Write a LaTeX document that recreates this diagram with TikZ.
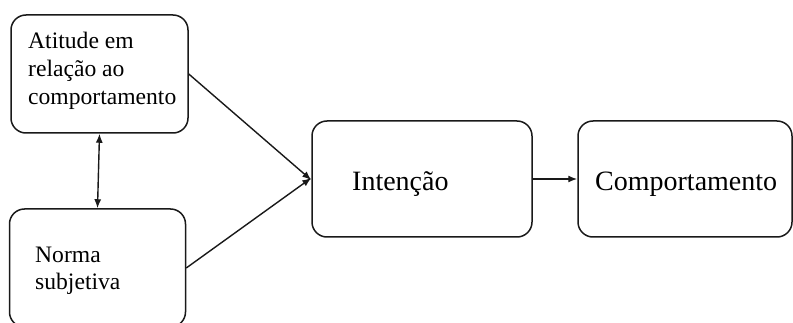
\documentclass[tikz,border=0pt]{standalone}
\usepackage{fontspec}
\setmainfont{Liberation Serif}
\usetikzlibrary{arrows.meta}
\begin{document}
\begin{tikzpicture}[x=1pt,y=-1pt,
  box/.style={draw=black!90, line width=1.5pt, rounded corners=15pt, inner sep=0pt},
  conn/.style={draw=black!90, line width=1.4pt, -{Latex[length=9pt,width=7pt]}},
  small/.style={font=\fontsize{23.6}{28}\selectfont, inner sep=0pt, align=left, anchor=base west},
  big/.style={font=\fontsize{28}{32}\selectfont, inner sep=0pt, anchor=base west}]
\clip (0,0) rectangle (793,323);
% boxes
\node[box, minimum width=177pt, minimum height=118pt] (A) at (99.5,74) {};
\node[box, minimum width=176pt, minimum height=118pt] (N) at (97.5,268) {};
\node[box, minimum width=220pt, minimum height=116pt] (I) at (422,179) {};
\node[box, minimum width=214pt, minimum height=116pt] (C) at (685,179) {};
% texts
\node[small] (tA1) at (28,49) {Atitude em};
\node[small] (tA2) at (28,77) {relação ao};
\node[small] (tA3) at (28,105) {comportamento};
\node[small] (tN1) at (35,263) {Norma};
\node[small] (tN2) at (35,290) {subjetiva};
\node[big] (tI) at (352,191) {Intenção};
\node[big] (tC) at (595,191) {Comportamento};
% connectors
\draw[conn] (A.east) -- ([yshift=-1pt]I.west);
\draw[conn] (N.east) -- ([yshift=1pt]I.west);
\draw[draw=black!90, line width=1.4pt, {Latex[length=9pt,width=7pt]}-{Latex[length=9pt,width=7pt]}] (A.south) -- (N.north);
\draw[conn] (I.east) -- (C.west);
\end{tikzpicture}
\end{document}
